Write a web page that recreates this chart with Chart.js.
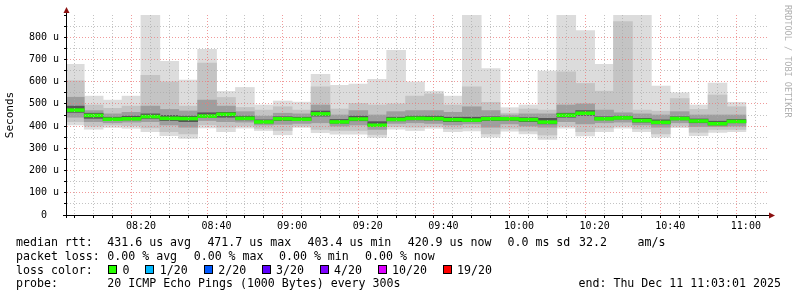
<!DOCTYPE html>
<html>
<head>
<meta charset="utf-8">
<title>smokeping</title>
<script src="https://cdn.jsdelivr.net/npm/chart.js@4/dist/chart.umd.min.js"></script>
<style>
  html, body { margin: 0; padding: 0; background: #fff; }
  #wrap { position: relative; width: 797px; height: 297px; overflow: hidden; }
  #wrap canvas { position: absolute; left: 0; top: 0; }
  .t { position: absolute; font-family: 'DejaVu Sans Mono', monospace; font-size: 11.6px; line-height: 14px; white-space: pre; color: #000; }
  .box { position: absolute; width: 9px; height: 9px; box-sizing: border-box; border: 1px solid #000; }
</style>
</head>
<body>
<div id="wrap">
  <canvas id="c" width="797" height="297"></canvas>
  <div id="legend"></div>
</div>
<script>
// 5 minute steps (end time of each step), ping times in microseconds
var slots = ['08:05','08:10','08:15','08:20','08:25','08:30','08:35','08:40','08:45','08:50',
             '08:55','09:00','09:05','09:10','09:15','09:20','09:25','09:30','09:35','09:40',
             '09:45','09:50','09:55','10:00','10:05','10:10','10:15','10:20','10:25','10:30',
             '10:35','10:40','10:45','10:50','10:55','11:00'];

var pingMin    = [405,386,394,390,375,357,345,392,375,391,380,361,394,371,364,364,349,386,380,390,375,378,350,377,365,340,391,356,375,391,375,350,393,357,372,375];
var pingP10    = [420,400,405,402,392,375,365,405,395,400,390,380,400,385,380,380,362,398,395,398,388,392,365,390,378,360,400,375,392,400,388,365,400,372,385,385];
var pingP25    = [440,420,415,418,420,405,395,425,420,418,405,408,412,415,400,405,385,412,415,412,405,410,395,410,400,395,420,410,415,418,405,395,415,398,398,400];
var pingP40    = [462,435,425,428,435,425,420,438,440,428,414,425,425,445,413,424,398,424,428,427,420,420,425,426,420,410,440,448,428,432,418,410,428,415,405,415];
var pingMedian = [472,448,431,433,443,435,434,445,453,435,419,433,431,455,419,432,404,430,435,434,429,427,433,433,429,418,449,458,433,437,425,417,434,423,411,421];
var pingP60    = [490,458,440,445,455,448,445,460,462,445,428,442,440,468,430,445,420,440,445,445,440,440,442,440,438,435,458,470,442,445,435,428,442,432,422,430];
var pingP75    = [530,470,455,462,490,475,468,517,490,465,445,458,455,495,450,470,450,465,470,470,462,487,470,450,455,455,495,500,472,460,455,450,465,450,450,450];
var pingP90    = [604,495,480,490,629,599,490,684,529,484,472,487,472,577,477,502,495,500,535,545,495,577,507,458,477,472,644,592,557,870,472,467,524,475,540,487];
var pingMax    = [678,535,517,535,950,692,607,745,556,574,495,513,508,633,584,589,610,741,599,557,535,950,659,483,495,648,950,830,678,950,950,580,550,495,594,507];

var yTicks = [0, 100, 200, 300, 400, 500, 600, 700, 800];
var lossColors = [['0', '#26ff00'], ['1/20', '#00b8ff'], ['2/20', '#0059ff'], ['3/20', '#5e00ff'],
                  ['4/20', '#7e00ff'], ['10/20', '#dd00ff'], ['19/20', '#ff0000']];

var STEP = 5;
var xStart = 8 * 60 + 3 + 1 / 60;   // 08:03:01
var xEnd = 11 * 60 + 3 + 1 / 60;    // 11:03:01
var majorGrid = 'rgba(235,120,120,0.75)';
var minorGrid = 'rgba(170,170,170,0.7)';

function toMin(hhmm) {
    var p = hhmm.split(':');
    return Number(p[0]) * 60 + Number(p[1]);
}
function fmtMin(m) {
    var h = Math.floor(m / 60), mm = Math.round(m % 60);
    return (h < 10 ? '0' : '') + h + ':' + (mm < 10 ? '0' : '') + mm;
}
function band(lo, hi) {
    return slots.map(function (s, i) {
        return { x: toMin(s) - STEP / 2, y: [lo[i], hi[i]] };
    });
}

var smoke = [
    { lo: pingMin, hi: pingMax, color: '#dcdcdc' },
    { lo: pingP10, hi: pingP90, color: '#c4c4c4' },
    { lo: pingP25, hi: pingP75, color: '#9e9e9e' },
    { lo: pingP40, hi: pingP60, color: '#555555' }
];

var datasets = smoke.map(function (s, i) {
    return {
        data: band(s.lo, s.hi),
        backgroundColor: s.color,
        order: 10 - i
    };
});
// median drawn as a thin band, coloured by loss (all 0 here)
datasets.push({
    data: slots.map(function (s, i) {
        return { x: toMin(s) - STEP / 2, y: [pingMedian[i] - 6.5, pingMedian[i] + 6.5] };
    }),
    backgroundColor: lossColors[0][1],
    order: 0
});
datasets.forEach(function (d) {
    d.barPercentage = 1;
    d.categoryPercentage = 1;
    d.grouped = false;
    d.borderWidth = 0;
    d.clip = 0;
});

// axis lines with arrows + rrdtool watermark
var decor = {
    id: 'decor',
    afterDraw: function (chart) {
        var ctx = chart.ctx, a = chart.chartArea;
        ctx.save();
        ctx.strokeStyle = '#000';
        ctx.lineWidth = 1;
        ctx.beginPath();
        ctx.moveTo(a.left - 4, Math.round(a.bottom) + 0.5);
        ctx.lineTo(a.right + 2, Math.round(a.bottom) + 0.5);
        ctx.moveTo(Math.round(a.left) - 0.5, a.bottom + 3);
        ctx.lineTo(Math.round(a.left) - 0.5, a.top - 3);
        ctx.stroke();
        ctx.fillStyle = '#8b1010';
        ctx.beginPath();
        ctx.moveTo(a.right + 8, a.bottom + 0.5);
        ctx.lineTo(a.right + 2, a.bottom - 2.5);
        ctx.lineTo(a.right + 2, a.bottom + 3.5);
        ctx.closePath();
        ctx.fill();
        ctx.beginPath();
        ctx.moveTo(a.left - 0.5, a.top - 8);
        ctx.lineTo(a.left - 3.5, a.top - 2);
        ctx.lineTo(a.left + 2.5, a.top - 2);
        ctx.closePath();
        ctx.fill();

        ctx.translate(787, 5);
        ctx.rotate(Math.PI / 2);
        ctx.fillStyle = '#b0b0b0';
        ctx.font = '8.5px "DejaVu Sans Mono"';
        ctx.textBaseline = 'middle';
        ctx.fillText('RRDTOOL / TOBI OETIKER', 0, 0);
        ctx.restore();
    }
};

Chart.defaults.font.family = '"DejaVu Sans Mono", monospace';
Chart.defaults.color = '#000';

new Chart(document.getElementById('c'), {
    type: 'bar',
    data: { datasets: datasets },
    options: {
        responsive: false,
        animation: false,
        layout: { padding: { left: 0, right: 30, top: 15, bottom: 0 } },
        plugins: { legend: { display: false }, tooltip: { enabled: false } },
        scales: {
            x: {
                type: 'linear',
                min: xStart,
                max: xEnd,
                afterFit: function (s) { s.height = 82; },
                afterBuildTicks: function (s) {
                    s.ticks = slots.map(function (t) { return { value: toMin(t) }; });
                },
                grid: {
                    z: 1,
                    color: function (c) { return c.tick && c.tick.value % 20 === 0 ? majorGrid : minorGrid; },
                    tickLength: 3,
                    tickColor: '#000',
                    tickBorderDash: []
                },
                border: { display: false, dash: [1, 2] },
                ticks: {
                    autoSkip: false,
                    maxRotation: 0,
                    padding: 2,
                    font: { size: 10 },
                    callback: function (v) { return v % 20 === 0 ? fmtMin(v) : ''; }
                }
            },
            y: {
                min: 0,
                max: 900,
                afterFit: function (s) { s.width = 67; },
                grid: {
                    z: 1,
                    color: function (c) {
                        var v = c.tick ? c.tick.value : 0;
                        if (v <= 0 || v >= 900) return 'rgba(0,0,0,0)';
                        return v % 100 === 0 ? majorGrid : minorGrid;
                    },
                    tickLength: 3,
                    tickColor: '#000',
                    tickBorderDash: []
                },
                border: { display: false, dash: [1, 2] },
                title: { display: true, text: 'Seconds', font: { size: 11 }, padding: { top: 4, bottom: 0 } },
                ticks: {
                    stepSize: 50,
                    autoSkip: false,
                    padding: 5,
                    font: { size: 10 },
                    callback: function (v) {
                        if (yTicks.indexOf(v) < 0) return '';
                        return v === 0 ? '0  ' : v + ' u';
                    }
                }
            }
        }
    },
    plugins: [decor]
});

// text legend under the graph (rrdtool style)
var rows = [
    [241.5, [[16, 'median rtt:'], [107.3, '431.6 us avg'], [207.4, '471.7 us max'], [307.6, '403.4 us min'],
             [407.7, '420.9 us now'], [507.5, '0.0 ms sd'], [579, '32.2'], [637.5, 'am/s']]],
    [255.5, [[16, 'packet loss:'], [107.3, '0.00 % avg'], [193.7, '0.00 % max'], [279, '0.00 % min'], [365, '0.00 % now']]],
    [269.5, [[16, 'loss color:']]],
    [283, [[16, 'probe:'], [107.3, '20 ICMP Echo Pings (1000 Bytes) every 300s'], [578.5, 'end: Thu Dec 11 11:03:01 2025']]]
];
var boxX = [108.3, 145.4, 203.9, 261.8, 319.8, 377.7, 442.8];
var legend = document.getElementById('legend');
rows.forEach(function (r) {
    r[1].forEach(function (c) {
        var el = document.createElement('div');
        el.className = 't';
        el.style.left = c[0] + 'px';
        el.style.top = (r[0] - 7) + 'px';
        el.textContent = c[1];
        legend.appendChild(el);
    });
});
lossColors.forEach(function (lc, i) {
    var b = document.createElement('div');
    b.className = 'box';
    b.style.left = boxX[i] + 'px';
    b.style.top = '265px';
    b.style.background = lc[1];
    legend.appendChild(b);
    var el = document.createElement('div');
    el.className = 't';
    el.style.left = (boxX[i] + 14.3) + 'px';
    el.style.top = (269.5 - 7) + 'px';
    el.textContent = lc[0];
    legend.appendChild(el);
});
</script>
</body>
</html>
